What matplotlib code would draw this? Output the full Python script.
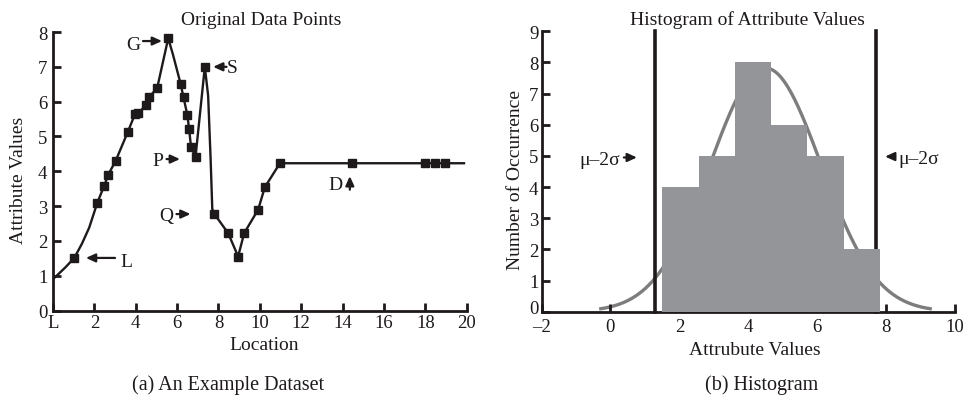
import numpy as np
import matplotlib
matplotlib.use("Agg")
import matplotlib.pyplot as plt
from matplotlib.transforms import ScaledTranslation

plt.rcParams["font.family"] = ["Liberation Serif", "DejaVu Serif"]
plt.rcParams["mathtext.fontset"] = "stix"

# ---- data: sampled attribute values along the location axis ----
location = [1.03, 2.14, 2.48, 2.67, 3.03, 3.61, 3.97, 4.12, 4.49, 4.64,
            5.04, 5.57, 6.17, 6.31, 6.49, 6.58, 6.67, 6.89, 7.34, 7.79,
            8.47, 8.95, 9.24, 9.92, 10.24, 10.97, 14.46, 17.98, 18.49, 18.93]
attribute = [1.51, 3.09, 3.59, 3.90, 4.30, 5.12, 5.65, 5.66, 5.90, 6.12,
             6.40, 7.82, 6.51, 6.12, 5.63, 5.22, 4.71, 4.41, 7.00, 2.78,
             2.22, 1.55, 2.22, 2.90, 3.54, 4.23, 4.23, 4.23, 4.23, 4.23]

# extra bends of the connecting curve (no sample marker on these)
bend_location = [0.0, 0.25, 0.6, 1.4, 1.75, 5.80, 7.50, 7.62, 7.70, 19.87]
bend_attribute = [0.90, 1.04, 1.24, 1.92, 2.38, 7.35, 6.17, 4.35, 2.92, 4.23]

loc_ticks = [0, 2, 4, 6, 8, 10, 12, 14, 16, 18, 20]
loc_ticklabels = ["L", "2", "4", "6", "8", "10", "12", "14", "16", "18", "20"]
val_ticks = [-2, 0, 2, 4, 6, 8, 10]
val_ticklabels = ["\u20132", "0", "2", "4", "6", "8", "10"]
n_bins = 6

INK = "#1e1a1b"
BAR_GRAY = "#939598"
CURVE_GRAY = "#7d7d7d"

W, H = 968, 410
fig = plt.figure(figsize=(W / 100, H / 100), dpi=100)


def px(x, y):
    return x / W, 1 - y / H


def style_axes(ax, xpad, ypad):
    for side in ("top", "right"):
        ax.spines[side].set_visible(False)
    for side in ("left", "bottom"):
        ax.spines[side].set_linewidth(2.0)
        ax.spines[side].set_color(INK)
    ax.tick_params(direction="in", length=6, width=2.0, color=INK,
                   labelsize=13.5, labelcolor=INK)
    ax.tick_params(axis="x", pad=xpad)
    ax.tick_params(axis="y", pad=ypad)


def arrow(ax, tail, head):
    ax.annotate("", xy=head, xytext=tail,
                arrowprops=dict(arrowstyle="-|>,head_length=0.55,head_width=0.25",
                                lw=1.6, color=INK, shrinkA=0, shrinkB=0,
                                mutation_scale=10))


# ---------------- (a) original data points ----------------
axL = fig.add_axes([53 / W, 1 - 311.5 / H, (466.7 - 53) / W, (311.5 - 33) / H])
style_axes(axL, xpad=2.5, ypad=4.0)

path_loc = np.concatenate([location, bend_location])
path_val = np.concatenate([attribute, bend_attribute])
order = np.argsort(path_loc)
axL.plot(path_loc[order], path_val[order], color=INK, lw=1.7, zorder=2,
         solid_joinstyle="round")
axL.plot(location, attribute, ls="none", marker="s", ms=6.2, color=INK, zorder=3)

axL.set_xlim(0, 20)
axL.set_ylim(0, 8)
axL.set_xticks(loc_ticks)
axL.set_xticklabels(loc_ticklabels)
axL.set_yticks(range(0, 9))

fs = 14
axL.text(3.86, 7.64, "G", fontsize=fs, ha="center", va="center", color=INK)
arrow(axL, (4.35, 7.74), (5.27, 7.74))
axL.text(8.68, 6.97, "S", fontsize=fs, ha="center", va="center", color=INK)
arrow(axL, (8.39, 7.0), (7.74, 7.0))
axL.text(5.07, 4.32, "P", fontsize=fs, ha="center", va="center", color=INK)
arrow(axL, (5.49, 4.35), (6.14, 4.35))
axL.text(5.47, 2.72, "Q", fontsize=fs, ha="center", va="center", color=INK)
arrow(axL, (5.97, 2.77), (6.65, 2.77))
axL.text(3.53, 1.42, "L", fontsize=fs, ha="center", va="center", color=INK)
arrow(axL, (3.0, 1.51), (1.59, 1.51))
axL.text(13.67, 3.62, "D", fontsize=fs, ha="center", va="center", color=INK)
arrow(axL, (14.35, 3.47), (14.35, 3.86))

fig.text(*px(261, 25), "Original Data Points", fontsize=14, ha="center",
         va="baseline", color=INK)
fig.text(*px(264, 350), "Location", fontsize=14, ha="center", va="baseline",
         color=INK)
fig.text(*px(19, 180), "Attribute Values", fontsize=14, ha="center",
         va="center", rotation=90, color=INK)

# ---------------- (b) histogram of attribute values ----------------
axR = fig.add_axes([541.5 / W, 1 - 312.7 / H, (955 - 541.5) / W, (312.7 - 32.3) / H])
style_axes(axR, xpad=4.2, ypad=2.2)

values = np.asarray(attribute)
counts, edges = np.histogram(values, bins=n_bins)
mu = values.mean()
sigma = values.std(ddof=1)
bin_width = edges[1] - edges[0]

# fitted normal density scaled to the histogram counts
xs = np.linspace(mu - 3 * sigma, mu + 3 * sigma, 300)
fit = len(values) * bin_width * np.exp(-0.5 * ((xs - mu) / sigma) ** 2) / (sigma * np.sqrt(2 * np.pi))
axR.plot(xs, fit, color=CURVE_GRAY, lw=2.4, zorder=1, solid_capstyle="butt")

for xv in (mu - 2 * sigma, mu + 2 * sigma):
    axR.plot([xv, xv], [0, 9], color=INK, lw=2.6, zorder=2, clip_on=False)

axR.bar(edges[:-1], counts, width=np.diff(edges), align="edge",
        color=BAR_GRAY, edgecolor="none", zorder=3)

axR.set_xlim(-2, 10)
axR.set_ylim(0, 9)
axR.set_xticks(val_ticks)
axR.set_xticklabels(val_ticklabels)
axR.set_yticks(range(0, 10))

# lift the corner "0" a little so it clears the "-2" below it
fig.canvas.draw()
zero_lbl = axR.get_yticklabels()[0]
zero_lbl.set_transform(zero_lbl.get_transform()
                       + ScaledTranslation(0, 4 / 72, fig.dpi_scale_trans))

axR.text(0.29, 4.90, "\u03bc\u20132\u03c3", fontsize=14, ha="right", va="center",
         color=INK)
arrow(axR, (0.39, 4.95), (0.77, 4.95))
axR.text(8.35, 4.93, "\u03bc\u20132\u03c3", fontsize=14, ha="left", va="center",
         color=INK)
arrow(axR, (8.26, 4.98), (7.97, 4.98))

fig.text(*px(747, 25), "Histogram of Attribute Values", fontsize=14,
         ha="center", va="baseline", color=INK)
fig.text(*px(755, 355), "Attrubute Values", fontsize=14, ha="center",
         va="baseline", color=INK)
fig.text(*px(516, 180), "Number of Occurrence", fontsize=14, ha="center",
         va="center", rotation=90, color=INK)

# ---------------- captions ----------------
fig.text(*px(228, 390), "(a) An Example Dataset", fontsize=14.5, ha="center",
         va="baseline", color=INK)
fig.text(*px(762, 390), "(b) Histogram", fontsize=14.5, ha="center",
         va="baseline", color=INK)

fig.savefig("out.png", dpi=100)
